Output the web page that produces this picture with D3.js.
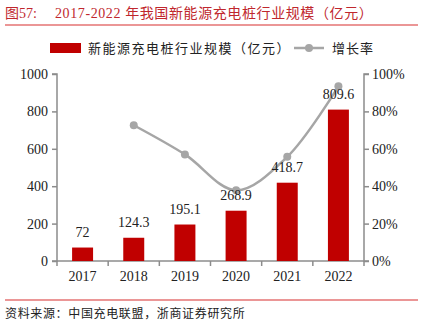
<!DOCTYPE html>
<html><head><meta charset="utf-8">
<script src="https://cdn.jsdelivr.net/npm/d3@7"></script>
<style>body{margin:0;background:#fff}
svg text{font-family:"Liberation Serif","DejaVu Serif",serif;}
</style>
</head><body>
<svg id="c" width="421" height="322"></svg>
<script>
const years = ["2017","2018","2019","2020","2021","2022"];
const scale = [72, 124.3, 195.1, 268.9, 418.7, 809.6];
const growth = [null, 0.726, 0.570, 0.378, 0.557, 0.934];
const leftTicks = [0,200,400,600,800,1000];
const rightTicks = [0,0.2,0.4,0.6,0.8,1.0];

const svg = d3.select("#c");
const serif = "\"Liberation Serif\", \"DejaVu Serif\", serif";
const mix = "\"Liberation Serif\", \"Noto Sans CJK SC\", serif";
const L=57, R=364, T=74, B=261;

// title
svg.append("text").attr("x",5).attr("y",18).attr("fill","#c0272d")
  .style("font-family",mix).style("font-size","14px").text("图57:");
svg.append("text").attr("x",55).attr("y",18).attr("fill","#c0272d")
  .style("font-family",mix).style("font-size","14px").style("letter-spacing","0.6px")
  .text("2017-2022 年我国新能源充电桩行业规模（亿元）");
svg.append("line").attr("x1",5).attr("x2",418).attr("y1",25).attr("y2",25)
  .attr("stroke","#e57373").attr("stroke-width",1.5);

const x = d3.scaleBand().domain(years).range([L,R]).paddingInner(0.59).paddingOuter(0.295);
const xb = d3.scaleBand().domain(years).range([L,R]);
const y = d3.scaleLinear().domain([0,1000]).range([B,T]);
const y2 = d3.scaleLinear().domain([0,1]).range([B,T]);

// axes
const axColor="#8c8c8c";
const gl = svg.append("g").attr("transform",`translate(${L},0)`)
  .call(d3.axisLeft(y).tickValues(leftTicks).tickSize(5).tickPadding(4).tickFormat(d3.format("d")));
const gr = svg.append("g").attr("transform",`translate(${R},0)`)
  .call(d3.axisRight(y2).tickValues(rightTicks).tickSize(5).tickPadding(3).tickFormat(d=>Math.round(d*100)+"%"));
const gx = svg.append("g").attr("transform",`translate(0,${B})`)
  .call(d3.axisBottom(xb).tickSize(0).tickPadding(10));
svg.append("g").selectAll("line").data(years).join("line")
  .attr("x1",d=>xb(d)+xb.bandwidth()).attr("x2",d=>xb(d)+xb.bandwidth())
  .attr("y1",B).attr("y2",B+5).attr("stroke",axColor).attr("stroke-width",1.5);
svg.append("line").attr("x1",L).attr("x2",L).attr("y1",B).attr("y2",B+5).attr("stroke",axColor).attr("stroke-width",1.5);
[gl,gr,gx].forEach(g=>{
  g.attr("font-family",null).attr("font-size",null);
  g.selectAll("path").attr("stroke",axColor).attr("stroke-width",1.5);
  g.selectAll("line").attr("stroke",axColor).attr("stroke-width",1.5);
  g.selectAll("text").style("font-family",serif).style("font-size","14px").attr("fill","#222");
});
gl.select(".domain").attr("d",`M-5,${B}H0V${T}H-5`);
gr.select(".domain").attr("d",`M5,${T}H0V${B}H5`);
gx.select(".domain").attr("d",`M${L},0H${R}`);

// bars
svg.append("g").selectAll("rect").data(scale).join("rect")
  .attr("x",(d,i)=>x(years[i])).attr("width",x.bandwidth())
  .attr("y",d=>y(d)).attr("height",d=>B-y(d)).attr("fill","#c00000");

// line
const pts = growth.map((g,i)=>g==null?null:[xb(years[i])+xb.bandwidth()/2, y2(g)]).filter(p=>p);
svg.append("path").attr("d",d3.line().curve(d3.curveCatmullRom.alpha(0.5))(pts))
  .attr("fill","none").attr("stroke","#a6a6a6").attr("stroke-width",2.5);
svg.append("g").selectAll("circle").data(pts).join("circle")
  .attr("cx",d=>d[0]).attr("cy",d=>d[1]).attr("r",4).attr("fill","#a6a6a6");

// labels
svg.append("g").selectAll("text").data(scale).join("text")
  .attr("x",(d,i)=>xb(years[i])+xb.bandwidth()/2).attr("y",d=>y(d)-11)
  .attr("text-anchor","middle").style("font-family",serif).style("font-size","14px").attr("fill","#222")
  .text(d=>d);

// legend
svg.append("rect").attr("x",50).attr("y",43).attr("width",31).attr("height",10).attr("fill","#c00000");
svg.append("text").attr("x",88).attr("y",53).style("font-family",mix).style("font-size","13px").style("letter-spacing","1.5px").attr("fill","#222")
  .text("新能源充电桩行业规模（亿元）");
svg.append("line").attr("x1",294).attr("x2",324).attr("y1",48).attr("y2",48).attr("stroke","#a6a6a6").attr("stroke-width",2.5);
svg.append("circle").attr("cx",309).attr("cy",48).attr("r",4).attr("fill","#a6a6a6");
svg.append("text").attr("x",332).attr("y",53).style("font-family",mix).style("font-size","13px").style("letter-spacing","1px").attr("fill","#222")
  .text("增长率");

// footer
svg.append("line").attr("x1",5).attr("x2",418).attr("y1",300).attr("y2",300)
  .attr("stroke","#e57373").attr("stroke-width",1.5);
svg.append("text").attr("x",5).attr("y",318).style("font-family",mix).style("font-size","12px").style("letter-spacing","0.65px").attr("fill","#222")
  .text("资料来源：中国充电联盟，浙商证券研究所");
</script>
</body></html>
